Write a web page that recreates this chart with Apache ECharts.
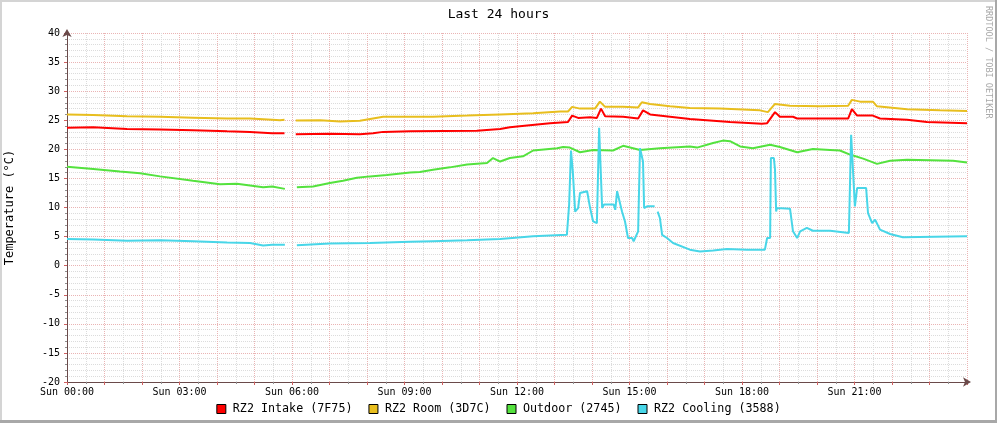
<!DOCTYPE html>
<html>
<head>
<meta charset="utf-8">
<script src="https://cdn.jsdelivr.net/npm/echarts@6/dist/echarts.min.js"></script>
<style>
html,body{margin:0;padding:0;background:#fff;}
#chart{width:997px;height:423px;}
</style>
</head>
<body>
<div id="chart"></div>
<script>
// ---- Data (hours since Sun 00:00, °C) ----
const seriesNames = ['RZ2 Intake (7F75)', 'RZ2 Room (3D7C)', 'Outdoor (2745)', 'RZ2 Cooling (3588)'];
const hourTicks = ['Sun 00:00','Sun 03:00','Sun 06:00','Sun 09:00','Sun 12:00','Sun 15:00','Sun 18:00','Sun 21:00'];

const intakeHours = [0,0.7,1.6,2.48,3.36,4.27,4.88,5.47,5.8,5.95,6.1,7.0,7.81,8.16,8.43,9.15,10.93,11.55,11.81,12.27,12.88,13.36,13.47,13.63,13.95,14.13,14.24,14.35,14.83,15.23,15.36,15.55,16.08,16.61,17.68,18.53,18.67,18.88,19.01,19.36,19.47,20.83,20.93,21.07,21.49,21.68,22.4,22.93,24];
const intakeTemps = [23.7,23.8,23.5,23.4,23.3,23.1,23.0,22.75,22.75,null,22.6,22.7,22.6,22.75,23.0,23.1,23.2,23.5,23.8,24.1,24.5,24.7,25.8,25.4,25.5,25.4,27.0,25.7,25.6,25.3,26.7,26.0,25.6,25.2,24.7,24.4,24.5,26.4,25.6,25.6,25.3,25.3,26.9,25.8,25.8,25.3,25.1,24.7,24.5];

const roomHours = [0,0.7,1.6,2.48,3.36,4.27,4.88,5.47,5.68,5.8,5.95,6.1,6.75,7.28,7.81,8.16,8.43,9.15,9.76,10.67,11.55,12.43,13.15,13.36,13.47,13.68,14.08,14.21,14.35,14.83,15.23,15.33,15.55,16.08,16.61,17.41,18.48,18.69,18.88,19.28,20.08,20.83,20.93,21.15,21.49,21.6,22.4,23.28,24];
const roomTemps = [26.0,25.9,25.7,25.6,25.45,25.3,25.3,25.1,25.0,25.1,null,24.97,25.0,24.8,24.9,25.3,25.6,25.6,25.6,25.8,26.0,26.2,26.5,26.5,27.3,27.0,27.0,28.2,27.3,27.3,27.2,28.1,27.8,27.4,27.1,27.0,26.7,26.4,27.8,27.5,27.4,27.5,28.5,28.2,28.2,27.4,26.9,26.7,26.6];

const outdoorHours = [0,0.7,1.41,1.95,2.48,3.36,4.08,4.53,4.88,5.23,5.47,5.81,5.95,6.13,6.56,7.01,7.36,7.73,8.08,8.53,9.15,9.41,9.76,10.21,10.67,11.2,11.36,11.55,11.81,12.16,12.43,13.07,13.23,13.41,13.68,14.03,14.56,14.83,15.28,15.81,16.61,16.8,17.23,17.49,17.68,17.95,18.29,18.75,19.01,19.47,19.89,20.35,20.61,20.88,21.23,21.6,21.95,22.4,23.63,24];
const outdoorTemps = [17.0,16.6,16.2,15.9,15.35,14.6,14.0,14.1,13.8,13.5,13.6,13.2,null,13.5,13.6,14.2,14.6,15.1,15.35,15.6,16.0,16.1,16.5,16.9,17.4,17.65,18.5,17.9,18.5,18.8,19.8,20.2,20.4,20.3,19.5,19.9,19.8,20.6,19.9,20.2,20.5,20.3,21.1,21.5,21.4,20.5,20.2,20.8,20.4,19.5,20.05,19.9,19.8,19.1,18.4,17.5,18.05,18.2,18.05,17.75];

const coolingHours = [0,0.7,1.6,2.48,3.36,4.27,4.88,5.23,5.47,5.81,5.95,6.13,7.01,8.08,9.15,9.76,10.67,11.55,12.43,13.33,13.39,13.44,13.49,13.55,13.63,13.68,13.87,13.95,14.03,14.13,14.19,14.24,14.27,14.32,14.58,14.62,14.67,14.72,14.8,14.88,14.96,15.07,15.11,15.23,15.28,15.33,15.36,15.39,15.47,15.67,15.71,15.75,15.81,15.87,16.0,16.16,16.61,16.88,17.23,17.6,18.13,18.61,18.67,18.75,18.77,18.85,18.88,18.91,18.93,19.28,19.36,19.47,19.55,19.73,19.89,20.35,20.85,20.91,20.96,21.01,21.07,21.31,21.36,21.47,21.55,21.68,21.95,22.29,24];
const coolingTemps = [4.6,4.5,4.3,4.35,4.2,4.0,3.9,3.45,3.6,3.6,null,3.5,3.8,3.9,4.1,4.2,4.35,4.6,5.05,5.3,10.5,19.8,16.0,9.3,9.9,12.5,12.8,9.9,7.6,7.3,23.7,23.7,9.9,10.5,10.5,9.6,12.8,12.8,9.3,7.6,4.75,4.75,4.2,5.9,20.2,20.2,17.9,9.9,10.2,10.2,null,9.3,8.2,5.3,4.75,3.9,2.75,2.45,2.6,2.85,2.75,2.75,4.75,4.75,18.5,18.5,16.5,9.3,9.9,9.8,5.9,4.75,5.9,6.5,6.0,6.0,5.6,22.5,22.5,10.2,13.35,13.35,9.05,7.3,7.9,6.2,5.45,4.9,5.05];

const seriesColors = ['#FF0000', '#E8BE1E', '#54E23E', '#48D6E8'];

function zip(h, v) { return h.map((x, i) => [x, v[i]]); }
const seriesData = [
  zip(intakeHours, intakeTemps),
  zip(roomHours, roomTemps),
  zip(outdoorHours, outdoorTemps),
  zip(coolingHours, coolingTemps)
];

const mono = 'DejaVu Sans Mono';
const chart = echarts.init(document.getElementById('chart'), null, {renderer: 'canvas'});

chart.setOption({
  backgroundColor: '#ffffff',
  animation: false,
  title: {
    text: 'Last 24 hours',
    left: 'center',
    top: 3,
    textStyle: {fontFamily: mono, fontSize: 13, fontWeight: 'normal', color: '#000'}
  },
  legend: {
    bottom: 3,
    left: 'center',
    icon: 'rect',
    itemWidth: 9,
    itemHeight: 9,
    itemGap: 16,
    itemStyle: {borderColor: '#000', borderWidth: 1},
    textStyle: {fontFamily: mono, fontSize: 11.7, color: '#000', padding: [0, 0, 0, 2]},
    data: seriesNames
  },
  graphic: [
    {type: 'rect', left: 0, top: 0, shape: {width: 997, height: 2}, style: {fill: '#d4d4d4'}, silent: true},
    {type: 'rect', left: 0, top: 0, shape: {width: 2, height: 423}, style: {fill: '#d4d4d4'}, silent: true},
    {type: 'rect', right: 0, top: 0, shape: {width: 2, height: 423}, style: {fill: '#a8a8a8'}, silent: true},
    {type: 'rect', left: 0, bottom: 0, shape: {width: 997, height: 3}, style: {fill: '#a8a8a8'}, silent: true},
    {
      type: 'text', left: 984, top: 6, rotation: -Math.PI / 2,
      style: {text: 'RRDTOOL / TOBI OETIKER', fill: '#a8a8a8', font: '8.5px "DejaVu Sans Mono"'},
      silent: true
    }
  ],
  grid: {left: 67, right: 30, top: 33, bottom: 41, containLabel: false, outerBoundsMode: 'none'},
  xAxis: {
    type: 'value',
    min: 0,
    max: 24,
    interval: 1,
    axisLine: {
      show: true,
      onZero: false,
      symbol: ['none', 'arrow'],
      symbolSize: [7, 8],
      symbolOffset: [0, 4],
      lineStyle: {color: '#6a4a4a', width: 1}
    },
    axisTick: {show: true, inside: false, length: 3, lineStyle: {color: '#d06060'}},
    minorTick: {show: true, splitNumber: 2, length: 2, lineStyle: {color: '#909090'}},
    axisLabel: {
      fontFamily: mono, fontSize: 10, color: '#000', margin: 5,
      showMaxLabel: false,
      formatter: function (v) {
        if (v % 3 === 0 && v < 24) return hourTicks[v / 3];
        return '';
      }
    },
    splitLine: {show: true, lineStyle: {color: '#eab4b4', type: [1, 1], width: 1}},
    minorSplitLine: {show: true, lineStyle: {color: '#dcdcdc', type: [1, 1], width: 1}}
  },
  yAxis: {
    type: 'value',
    min: -20,
    max: 40,
    interval: 5,
    name: 'Temperature (°C)',
    nameLocation: 'middle',
    nameGap: 51,
    nameTextStyle: {fontFamily: mono, fontSize: 12, color: '#000'},
    axisLine: {
      show: true,
      symbol: ['none', 'arrow'],
      symbolSize: [7, 8],
      symbolOffset: [0, 4],
      lineStyle: {color: '#6a4a4a', width: 1}
    },
    axisTick: {show: true, length: 3, lineStyle: {color: '#d06060'}},
    minorTick: {show: true, splitNumber: 5, length: 2, lineStyle: {color: '#909090'}},
    axisLabel: {fontFamily: mono, fontSize: 10, color: '#000', margin: 7},
    splitLine: {show: true, lineStyle: {color: '#eab4b4', type: [1, 1], width: 1}},
    minorSplitLine: {show: true, lineStyle: {color: '#dcdcdc', type: [1, 1], width: 1}}
  },
  series: seriesNames.map((name, i) => ({
    name: name,
    type: 'line',
    data: seriesData[i],
    showSymbol: false,
    connectNulls: false,
    smooth: false,
    lineStyle: {color: seriesColors[i], width: 2},
    itemStyle: {color: seriesColors[i]},
    z: 2 + i
  }))
});
</script>
</body>
</html>
